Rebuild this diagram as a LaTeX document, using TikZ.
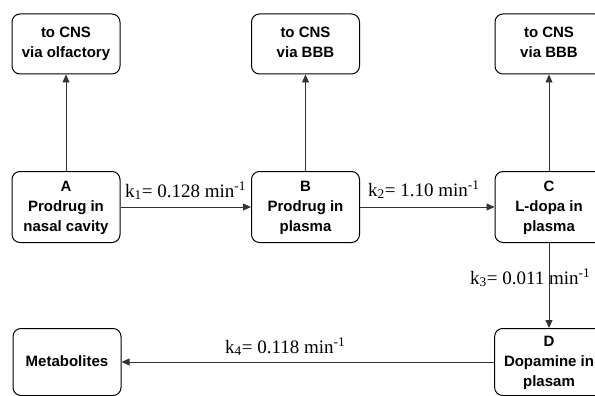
\documentclass[tikz,border=0pt]{standalone}
\usepackage{fontspec}
\setmainfont{Liberation Serif}
\newfontfamily\boxfont{Liberation Sans}
\usepackage{tikz}
\usetikzlibrary{
	arrows.meta
}
\newcommand{\cbox}[1]{%
	\begin{tabular}{c}
		#1
	\end{tabular}%
}

\begin{document}
\begin{tikzpicture}[x=1pt,y=-1pt,
		stage/.style={draw,line width=1pt,rounded corners=8pt,minimum width=108pt,
			font=\boxfont\bfseries\fontsize{15}{20}\selectfont},
		flow/.style={line width=.8pt,color=black!80,-{Triangle[length=8pt,width=7pt]}},
		rate/.style={anchor=base west,inner sep=0pt,font=\fontsize{19}{22}\selectfont}
	]
			\useasboundingbox (0,0) rectangle (595,396);
			\clip (0,0) rectangle (595,396);

			% compartments
			\node[stage,minimum height=60pt] (olf)  at (66,44)    {\cbox{to CNS \\ via olfactory}};
			\node[stage,minimum height=60pt] (bbbB) at (305.5,44) {\cbox{to CNS \\ via BBB}};
			\node[stage,minimum height=60pt] (bbbC) at (549,44)   {\cbox{to CNS \\ via BBB}};
			\node[stage,minimum height=71pt] (A) at (66,207)    {\cbox{A \\ Prodrug in \\ nasal cavity}};
			\node[stage,minimum height=71pt] (B) at (305.5,207) {\cbox{B \\ Prodrug in \\ plasma}};
			\node[stage,minimum height=71pt] (C) at (549,207)   {\cbox{C \\ L-dopa in \\ plasma}};
			\node[stage,minimum height=67pt] (met) at (67,362) {\cbox{Metabolites}};
			\node[stage,minimum height=67pt] (D)   at (549,362) {\cbox{D \\ Dopamine in \\ plasam}};

			% transfers
			\draw[flow] (A) -- (olf);
			\draw[flow] (B) -- (bbbB);
			\draw[flow] (C) -- (bbbC);
			\draw[flow] (A) -- (B);
			\draw[flow] (B) -- (C);
			\draw[flow] (C) -- (D);
			\draw[flow] (D) -- (met);

			% rate constants
			\draw
				node[rate] (k1) at (125,197) {k\textsubscript{1}= 0.128 min\textsuperscript{-1}}
				node[rate] (k2) at (368,196) {k\textsubscript{2}= 1.10 min\textsuperscript{-1}}
				node[rate] (k3) at (470,284) {k\textsubscript{3}= 0.011 min\textsuperscript{-1}}
				node[rate] (k4) at (225,353) {k\textsubscript{4}= 0.118 min\textsuperscript{-1}}
			;
		\end{tikzpicture}
\end{document}
